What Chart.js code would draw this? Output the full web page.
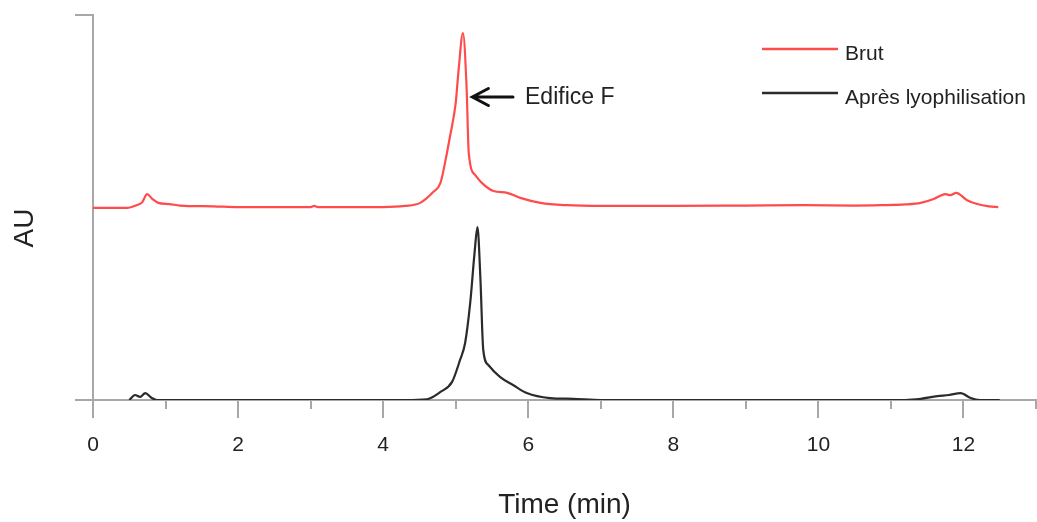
<!DOCTYPE html>
<html>
<head>
<meta charset="utf-8">
<script src="https://cdn.jsdelivr.net/npm/chart.js@4.4.1/dist/chart.umd.min.js"></script>
<style>
  html, body { margin: 0; padding: 0; background: #fff; }
  #wrap { width: 1037px; height: 522px; }
</style>
</head>
<body>
<div id="wrap"><canvas id="chromChart" width="1037" height="522"></canvas></div>
<script>
// =============================
// DATA
// =============================

const xTicks = [0, 2, 4, 6, 8, 10, 12];

const timeBrut = [0, 0.3, 0.47, 0.6, 0.68, 0.745, 0.82, 0.9, 1.05, 1.2, 1.66, 2.0, 2.5, 3.0, 3.05, 3.1, 3.5, 4.0, 4.3, 4.51, 4.69, 4.79, 4.86, 4.92, 5.0, 5.04, 5.10, 5.15, 5.18, 5.27, 5.36, 5.52, 5.71, 5.89, 6.17, 6.53, 7.0, 8.0, 9.0, 9.8, 10.5, 10.86, 11.2, 11.41, 11.59, 11.75, 11.82, 11.90, 12.05, 12.19, 12.35, 12.48];
const auBrut = [49.9, 49.9, 49.9, 50.6, 51.4, 53.5, 52.2, 51.2, 50.9, 50.5, 50.3, 50.1, 50.1, 50.1, 50.4, 50.1, 50.1, 50.1, 50.4, 51.2, 54.0, 56.4, 62.3, 68.3, 77.1, 85.7, 95.3, 81.3, 64.2, 58.4, 56.4, 54.3, 53.8, 52.5, 51.2, 50.6, 50.4, 50.4, 50.5, 50.6, 50.5, 50.6, 50.8, 51.2, 52.2, 53.5, 53.2, 53.8, 51.9, 50.9, 50.3, 50.1];

const timeLyo = [0.5, 0.58, 0.65, 0.72, 0.81, 0.88, 1.5, 2.5, 3.5, 4.3, 4.6, 4.79, 4.95, 5.06, 5.13, 5.2, 5.26, 5.30, 5.34, 5.38, 5.45, 5.61, 5.79, 5.98, 6.3, 6.62, 7.0, 8.0, 9.0, 10.0, 11.2, 11.41, 11.64, 11.8, 11.96, 12.1, 12.23, 12.5];
const auLyo = [0, 1.3, 0.8, 1.8, 0.5, 0, 0, 0, 0, 0, 0.2, 2.1, 4.7, 10.4, 14.8, 25.2, 38.2, 44.9, 31.9, 13.0, 9.1, 6.0, 3.9, 1.8, 0.5, 0.3, 0, 0, 0, 0, 0, 0.3, 1.0, 1.3, 1.8, 0.5, 0, 0];

const seriesNames = ["Brut", "Après lyophilisation"];
const seriesColors = ["#ff4b4b", "#2b2b2b"];

// annotation: arrow pointing at the main peak
const arrowFrom = { x: 5.79, y: 78.7 };
const arrowTo = { x: 5.23, y: 78.7 };
const peakLabel = "Edifice F";


// =============================
// HELPERS
// =============================

const axisColor = "#a8a8a8";
const textColor = "#222";
const fontFamily = "'Liberation Sans', Arial, sans-serif";

function toPoints(xs, ys) {
    return xs.map((x, i) => ({ x: x, y: ys[i] }));
}


// =============================
// DECORATION PLUGIN
// =============================

const decorPlugin = {
    id: "decor",
    afterDraw(chart) {
        const ctx = chart.ctx;
        const xs = chart.scales.x;
        const ys = chart.scales.y;
        const area = chart.chartArea;

        ctx.save();

        // tick marks, drawn outside the plot
        ctx.strokeStyle = axisColor;
        ctx.lineWidth = 2;
        for (let t = 0; t <= 13; t++) {
            const px = Math.round(xs.getPixelForValue(t));
            const len = t % 2 === 0 ? 18 : 9;
            ctx.beginPath();
            ctx.moveTo(px, area.bottom);
            ctx.lineTo(px, area.bottom + len);
            ctx.stroke();
        }
        [0, 100].forEach(v => {
            const py = Math.round(ys.getPixelForValue(v));
            ctx.beginPath();
            ctx.moveTo(area.left, py);
            ctx.lineTo(area.left - 18, py);
            ctx.stroke();
        });

        // axis titles
        ctx.fillStyle = textColor;
        ctx.font = "28px " + fontFamily;
        ctx.textAlign = "center";
        ctx.textBaseline = "alphabetic";
        ctx.fillText("Time (min)", (area.left + area.right) / 2, 513);

        ctx.save();
        ctx.translate(33, 228);
        ctx.rotate(-Math.PI / 2);
        ctx.fillText("AU", 0, 0);
        ctx.restore();

        // legend
        ctx.font = "21px " + fontFamily;
        ctx.textAlign = "left";
        ctx.textBaseline = "middle";
        const legendY = [49, 93];
        seriesNames.forEach((name, i) => {
            ctx.strokeStyle = seriesColors[i];
            ctx.lineWidth = 2.5;
            ctx.beginPath();
            ctx.moveTo(762, legendY[i]);
            ctx.lineTo(838, legendY[i]);
            ctx.stroke();
            ctx.fillStyle = textColor;
            ctx.fillText(name, 845, legendY[i] + 5);
        });

        // arrow + label
        const ax0 = xs.getPixelForValue(arrowFrom.x);
        const ay0 = ys.getPixelForValue(arrowFrom.y);
        const ax1 = xs.getPixelForValue(arrowTo.x);
        const ay1 = ys.getPixelForValue(arrowTo.y);
        ctx.strokeStyle = "#111";
        ctx.lineWidth = 3;
        ctx.lineCap = "round";
        ctx.beginPath();
        ctx.moveTo(ax0, ay0);
        ctx.lineTo(ax1, ay1);
        ctx.moveTo(ax1 + 16, ay1 - 8.5);
        ctx.lineTo(ax1, ay1);
        ctx.lineTo(ax1 + 16, ay1 + 8.5);
        ctx.stroke();

        ctx.fillStyle = textColor;
        ctx.font = "23px " + fontFamily;
        ctx.fillText(peakLabel, ax0 + 12, ay1 + 1);

        ctx.restore();
    }
};


// =============================
// CHART
// =============================

new Chart(document.getElementById("chromChart"), {
    type: "line",
    data: {
        datasets: [
            {
                label: seriesNames[0],
                data: toPoints(timeBrut, auBrut),
                borderColor: seriesColors[0],
                borderWidth: 2.2,
                pointRadius: 0,
                cubicInterpolationMode: "monotone",
                fill: false
            },
            {
                label: seriesNames[1],
                data: toPoints(timeLyo, auLyo),
                borderColor: seriesColors[1],
                borderWidth: 2.2,
                pointRadius: 0,
                cubicInterpolationMode: "monotone",
                fill: false
            }
        ]
    },
    options: {
        responsive: false,
        animation: false,
        layout: { padding: { top: 15, right: 1, left: 0, bottom: 0 } },
        plugins: {
            legend: { display: false },
            tooltip: { enabled: false }
        },
        scales: {
            x: {
                type: "linear",
                min: 0,
                max: 13,
                afterFit(scale) { scale.height = 122; },
                afterBuildTicks(scale) {
                    scale.ticks = xTicks.map(v => ({ value: v }));
                },
                grid: { display: false, drawTicks: false },
                border: { display: true, color: axisColor, width: 2 },
                ticks: {
                    padding: 33,
                    color: textColor,
                    font: { family: fontFamily, size: 21 },
                    maxRotation: 0,
                    autoSkip: false
                }
            },
            y: {
                min: 0,
                max: 100,
                afterFit(scale) { scale.width = 93; },
                grid: { display: false, drawTicks: false },
                border: { display: true, color: axisColor, width: 2 },
                ticks: { display: false }
            }
        }
    },
    plugins: [decorPlugin]
});
</script>
</body>
</html>
